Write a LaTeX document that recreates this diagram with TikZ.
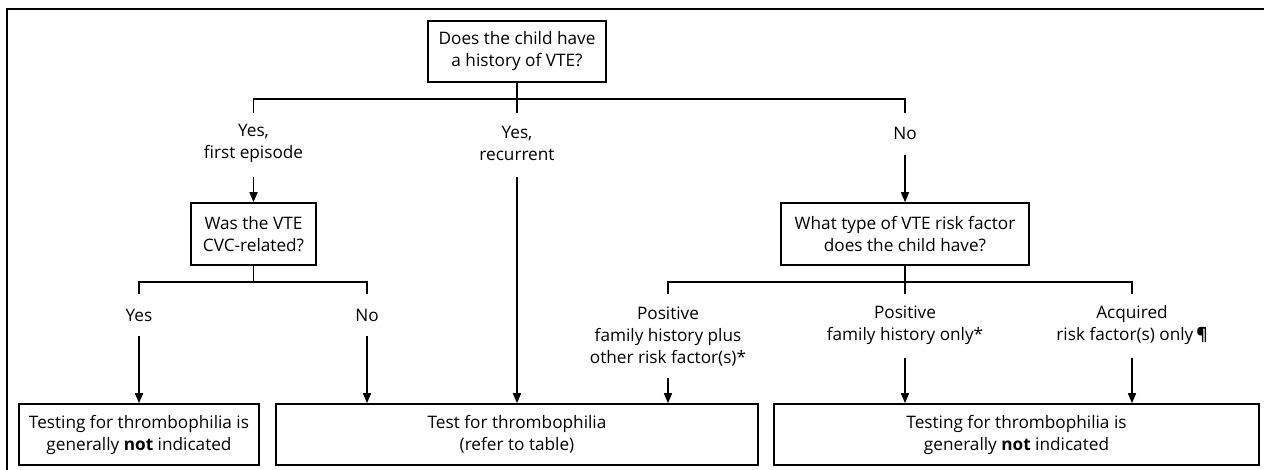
\documentclass[tikz,border=0pt]{standalone}
\usepackage{fontspec}
\setmainfont{Open Sans}
\usetikzlibrary{arrows.meta}
\begin{document}
\begin{tikzpicture}[x=1pt,y=-1pt,
  txt/.style={font=\fontsize{17.2}{22}\selectfont},
  box/.style={txt,draw,line width=1.6pt,minimum height=61pt,align=center,inner sep=0pt},
  lbl/.style={txt,align=center,inner sep=0pt},
  ln/.style={line width=1.6pt},
  arr/.style={line width=1.5pt,-{Triangle[length=10pt,width=8pt]}}]
\useasboundingbox (0,0) rectangle (1264,470);
\draw[line width=1.2pt] (1264,9) -- (7,9) -- (7,470);

% boxes
\node[box,minimum width=178pt] (q1) at (517,51.5) {Does the child have\\a history of VTE?};
\node[box,minimum width=125pt,minimum height=62pt] (q2) at (253.5,234) {Was the VTE\\CVC-related?};
\node[box,minimum width=248pt,minimum height=62pt] (q3) at (905,234) {What type of VTE risk factor\\does the child have?};
\node[box,minimum width=240pt] (b1) at (139,434.5) {Testing for thrombophilia is\\generally \textbf{not} indicated};
\node[box,minimum width=482pt] (b2) at (517,434.5) {Test for thrombophilia\\(refer to table)};
\node[box,minimum width=485pt] (b3) at (1016.5,434.5) {Testing for thrombophilia is\\generally \textbf{not} indicated};

% labels
\node[lbl] (l1) at (253.5,143.5) {Yes,\\first episode};
\node[lbl] (l2) at (517,143.5) {Yes,\\recurrent};
\node[lbl] (l3) at (905,133) {No};
\node[lbl] (l4) at (139,315) {Yes};
\node[lbl] (l5) at (367,315) {No};
\node[lbl] (l6) at (668,336.5) {Positive\\family history plus\\other risk factor(s)*};
\node[lbl] (l7) at (905,325.5) {Positive\\family history only*};
\node[lbl] (l8) at (1132,325.5) {Acquired\\risk factor(s) only\,\textbf{¶}};

% first split
\coordinate (j1) at (517,99);
\coordinate (t1) at (253.5,113);
\coordinate (t2) at (517,113);
\coordinate (t3) at (905,113);
\draw[ln] (q1.south) -- (t2);
\draw[ln] (t1) -- (t1 |- j1) -- (t3 |- j1) -- (t3);

\coordinate (a1) at (253.5,177);
\coordinate (a2) at (517,177);
\coordinate (a3) at (905,155);
\draw[arr] (a1) -- (q2.north);
\draw[arr] (a2) -- (a2 |- b2.north);
\draw[arr] (a3) -- (q3.north);

% second split
\coordinate (j2) at (253.5,282);
\coordinate (t4) at (139,294);
\coordinate (t5) at (367,294);
\draw[ln] (q2.south) -- (j2);
\draw[ln] (t4) -- (t4 |- j2) -- (t5 |- j2) -- (t5);
\coordinate (a4) at (139,336);
\coordinate (a5) at (367,336);
\draw[arr] (a4) -- (a4 |- b1.north);
\draw[arr] (a5) -- (a5 |- b2.north);

% third split
\coordinate (j3) at (905,282);
\coordinate (t6) at (668,294);
\coordinate (t7) at (905,294);
\coordinate (t8) at (1132,294);
\draw[ln] (q3.south) -- (t7);
\draw[ln] (t6) -- (t6 |- j3) -- (t8 |- j3) -- (t8);
\coordinate (a6) at (668,378);
\coordinate (a7) at (905,358);
\coordinate (a8) at (1132,358);
\draw[arr] (a6) -- (a6 |- b2.north);
\draw[arr] (a7) -- (a7 |- b3.north);
\draw[arr] (a8) -- (a8 |- b3.north);
\end{tikzpicture}
\end{document}
